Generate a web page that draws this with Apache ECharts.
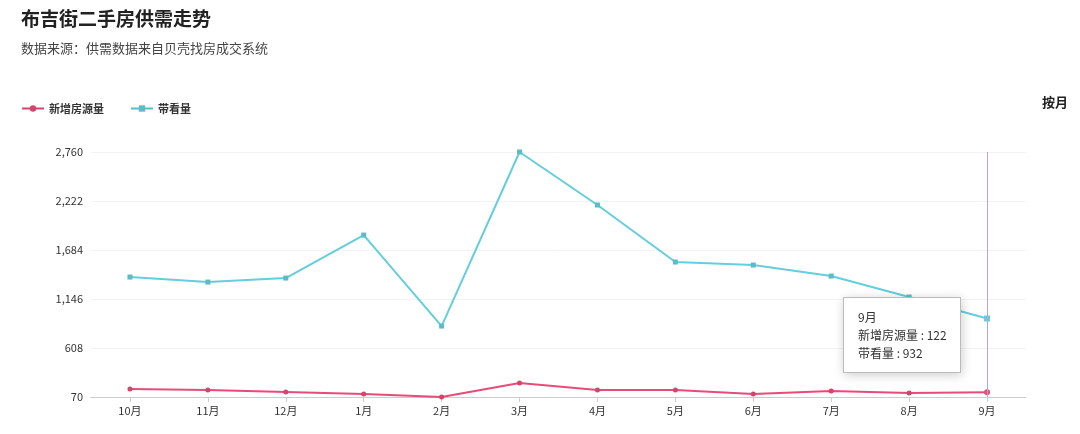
<!DOCTYPE html><html><head><meta charset="utf-8"><script src="https://cdn.jsdelivr.net/npm/echarts@6/dist/echarts.min.js"></script></head><body style="margin:0"><div id="c" style="width:1080px;height:434px"></div><script>
const categories=['10月','11月','12月','1月','2月','3月','4月','5月','6月','7月','8月','9月'];
const newListings=[158,147,125,103,70,224,147,147,103,136,114,122];
const viewings=[1387,1332,1376,1848,849,2760,2178,1552,1519,1398,1168,932];
const yTicks=[70,608,1146,1684,2222,2760];
const ch=echarts.init(document.getElementById('c'));
const F='"Noto Sans CJK SC", sans-serif';
ch.setOption({
 textStyle:{fontFamily:F},
 title:{text:'布吉街二手房供需走势',subtext:'数据来源：供需数据来自贝壳找房成交系统',left:16,top:4,textStyle:{fontSize:19,fontWeight:'bold',color:'#222'},subtextStyle:{fontSize:13,color:'#444'},itemGap:14},
 legend:{left:16,top:98,itemWidth:22,itemHeight:8,itemGap:26,textStyle:{fontSize:11,fontWeight:'bold',color:'#333'},data:['新增房源量','带看量']},
 graphic:[{type:'text',right:12,top:96,style:{text:'按月',font:'bold 13px '+F,fill:'#222'}}],
 grid:{left:91,right:54,top:152,bottom:37},
 tooltip:{trigger:'axis',alwaysShowContent:true,backgroundColor:'#fff',borderColor:'#bbb',borderWidth:1,textStyle:{fontSize:12,color:'#333'},
  axisPointer:{type:'line',lineStyle:{color:'#b9a6c4',width:1,type:'solid'}},
  position:[843,297],
  formatter:p=>p[0].name+'<br/>'+p.map(x=>x.seriesName+' : '+x.value).join('<br/>'),extraCssText:'border-radius:0;padding:10px 14px;width:88px;line-height:18px'},
 xAxis:{type:'category',data:categories,axisLine:{lineStyle:{color:'#ccc'}},axisTick:{show:true,alignWithLabel:true,lineStyle:{color:'#ccc'}},axisLabel:{color:'#333',fontSize:11}},
 yAxis:{type:'value',min:70,max:2760,interval:538,axisLine:{show:false},axisTick:{show:false},splitLine:{lineStyle:{color:'#f3f3f3'}},axisLabel:{color:'#333',fontSize:11,formatter:v=>v.toLocaleString('en-US')}},
 series:[
  {name:'新增房源量',type:'line',data:newListings,symbol:'circle',symbolSize:5,color:'#d4456e',lineStyle:{width:2}},
  {name:'带看量',type:'line',data:viewings,symbol:'rect',symbolSize:5,color:'#5bbcc8',lineStyle:{width:2}}
 ]
});
setTimeout(()=>ch.dispatchAction({type:'showTip',seriesIndex:0,dataIndex:11}),100);
</script></body></html>
